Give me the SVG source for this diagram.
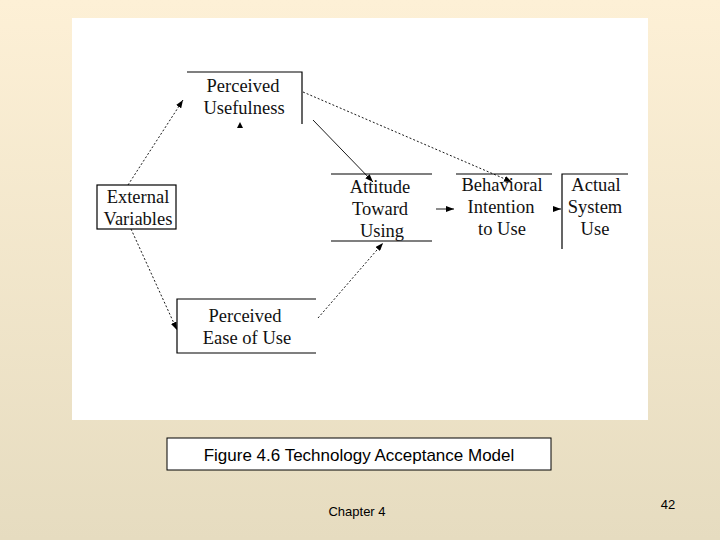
<svg xmlns="http://www.w3.org/2000/svg" width="720" height="540" viewBox="0 0 720 540">
<defs>
<linearGradient id="bg" x1="0" y1="0" x2="0" y2="1"><stop offset="0" stop-color="#fdf0d6"/><stop offset="1" stop-color="#e6dcc0"/></linearGradient>
<marker id="ah" markerWidth="8" markerHeight="6" refX="8" refY="3" orient="auto" markerUnits="userSpaceOnUse"><path d="M0,0L8,3L0,6z" fill="#000"/></marker>
<style>
.t{font-family:"Liberation Serif",serif;font-size:18.5px;text-anchor:middle;fill:#111}
.b{stroke:#000;stroke-width:1.2;fill:none}
.c{stroke:#000;stroke-width:0.9;fill:none;marker-end:url(#ah)}
.d{stroke-dasharray:2,2}
.s{font-family:"Liberation Sans",Arial,sans-serif;fill:#000}
</style>
</defs>
<rect width="720" height="540" fill="url(#bg)"/>
<rect x="72" y="18" width="576" height="402" fill="#fff"/>
<g id="pu"><path class="b" d="M187,72H302V124"/><text class="t" x="243" y="92">Perceived</text><text class="t" x="244" y="114">Usefulness</text></g>
<g id="ext"><rect class="b" x="97" y="185" width="79" height="44"/><text class="t" x="138" y="203">External</text><text class="t" x="138" y="225">Variables</text></g>
<g id="peou"><path class="b" d="M316,299H177V353H316"/><text class="t" x="245" y="322">Perceived</text><text class="t" x="247" y="344">Ease of Use</text></g>
<g id="att"><path class="b" d="M331,174H432M331,241H432"/><text class="t" x="380" y="193">Attitude</text><text class="t" x="380" y="215">Toward</text><text class="t" x="382" y="237">Using</text></g>
<g id="bi"><path class="b" d="M456,174H552"/><text class="t" x="502" y="191">Behavioral</text><text class="t" x="501" y="213">Intention</text><text class="t" x="502" y="235">to Use</text></g>
<g id="use"><path class="b" d="M562,249V174H628"/><text class="t" x="596" y="191">Actual</text><text class="t" x="595" y="213">System</text><text class="t" x="595" y="235">Use</text></g>
<g id="connectors">
<path class="c d" d="M128,185L183,100"/>
<path class="c d" d="M131,229L177,330"/>
<path class="c" d="M313,120L373,182"/>
<path class="c d" d="M303,92L512,182"/>
<path class="c d" d="M318,318L383,243"/>
<path class="c" d="M436,209L454,209"/>
<path class="c" d="M553,209L561,209"/>
<path d="M240,122L243,128H237z" fill="#000"/>
</g>
<rect x="167" y="438" width="384" height="32" fill="#fff" stroke="#000" stroke-width="1"/>
<text class="s" x="359" y="461" font-size="17" text-anchor="middle">Figure 4.6 Technology Acceptance Model</text>
<text class="s" x="357" y="516" font-size="13" text-anchor="middle">Chapter 4</text>
<text class="s" x="668" y="509" font-size="13" text-anchor="middle">42</text>
</svg>
